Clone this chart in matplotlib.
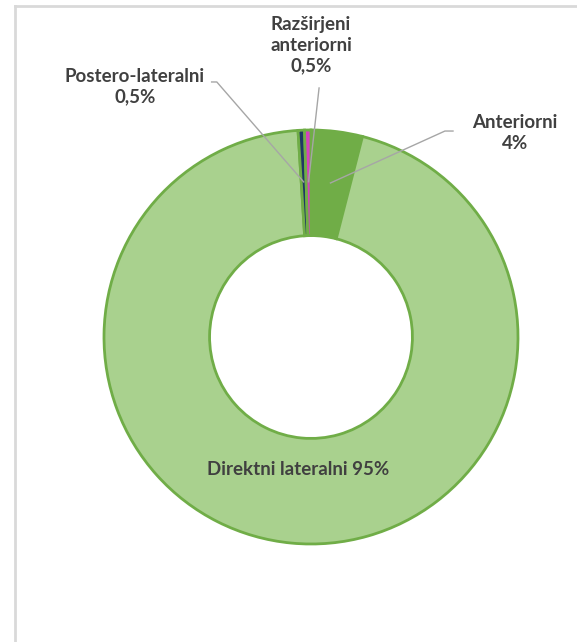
import numpy as np
import matplotlib
matplotlib.use('Agg')
import matplotlib.pyplot as plt
from matplotlib.lines import Line2D

plt.rcParams['font.family'] = ['Lato', 'DejaVu Sans']

# slices, clockwise from 12 o'clock
labels = ['Anteriorni', 'Direktni lateralni', 'Postero-lateralni', 'Razširjeni\nanteriorni']
values = [4, 95, 0.5, 0.5]
pct_text = ['4%', '95%', '0,5%', '0,5%']
colors = ['#70AD47', '#A9D18E', '#1F3864', '#D63FC0']

W, H = 577, 642
fig = plt.figure(figsize=(W / 100, H / 100), dpi=100)

# light grey chart frame (top and left edges visible)
fig.add_artist(Line2D([15 / W, 1], [1 - 6 / H, 1 - 6 / H], color='#D9D9D9', lw=2))
fig.add_artist(Line2D([15 / W, 15 / W], [0, 1 - 6 / H], color='#D9D9D9', lw=2))

cx, cy, R = 311, 337, 207
ax = fig.add_axes([(cx - R) / W, (H - cy - R) / H, 2 * R / W, 2 * R / H])
wedges, _ = ax.pie(values, colors=colors, startangle=90, counterclock=False,
                   radius=1, wedgeprops=dict(width=0.51, edgecolor='#70AD47', linewidth=2))
ax.set_xlim(-1, 1)
ax.set_ylim(-1, 1)
ax.set_aspect('equal')
ax.axis('off')

txt = dict(ha='center', va='center', fontsize=13.5, fontweight='bold', color='#404040')
grey = '#A6A6A6'

def mid(w, r=0.75):
    a = np.deg2rad((w.theta1 + w.theta2) / 2)
    return r * np.cos(a), r * np.sin(a)

# inside label for the big slice
ax.text(-0.06, -0.64, labels[1] + ' ' + pct_text[1], **txt)

# Anteriorni
mx, my = mid(wedges[0])
ax.plot([0.686, 0.647, mx], [0.995, 0.995, my], color=grey, lw=1, clip_on=False)
ax.text(0.985, 0.985, labels[0] + '\n' + pct_text[0], linespacing=1.25, **txt)

# Postero-lateralni
mx, my = mid(wedges[2])
ax.plot([-0.48, -0.455, mx], [1.232, 1.232, my], color=grey, lw=1, clip_on=False)
ax.text(-0.85, 1.21, labels[2] + '\n' + pct_text[2], linespacing=1.25, **txt)

# Razširjeni anteriorni
mx, my = mid(wedges[3])
ax.plot([0.039, mx], [1.203, my], color=grey, lw=1, clip_on=False)
ax.text(0.0, 1.41, labels[3] + '\n' + pct_text[3], linespacing=1.25, **txt)

fig.savefig('out.png', dpi=100)
